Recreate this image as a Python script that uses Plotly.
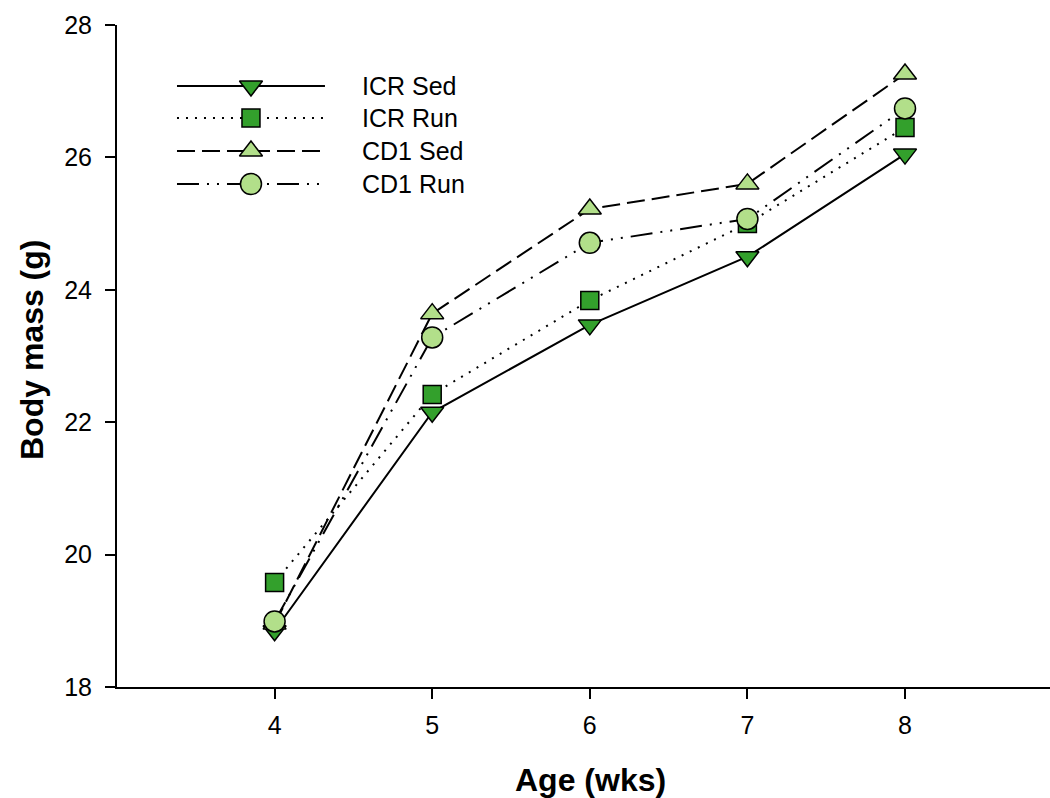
import plotly.graph_objects as go

# ---- data ----
age = [4, 5, 6, 7, 8]
icr_sed = [18.85, 22.15, 23.47, 24.50, 26.05]
icr_run = [19.58, 22.42, 23.84, 25.00, 26.45]
cd1_sed = [18.95, 23.64, 25.22, 25.60, 27.26]
cd1_run = [18.99, 23.28, 24.71, 25.07, 26.74]

series_names = ["ICR Sed", "ICR Run", "CD1 Sed", "CD1 Run"]
x_ticks = [4, 5, 6, 7, 8]
y_ticks = [18, 20, 22, 24, 26, 28]

DARK = "#33a02c"
LIGHT = "#b2df8a"
FONT = "Liberation Sans, Arial, sans-serif"

styles = [
    dict(symbol="triangle-down", color=DARK, dash="solid", size=20),
    dict(symbol="square", color=DARK, dash="2px,7px", size=18),
    dict(symbol="triangle-up", color=LIGHT, dash="18px,7px", size=20),
    dict(symbol="circle", color=LIGHT, dash="22px,8px,2px,8px,2px,8px", size=21),
]
series = [icr_sed, icr_run, cd1_sed, cd1_run]

fig = go.Figure()
for name, vals, st in zip(series_names, series, styles):
    fig.add_trace(go.Scatter(
        x=age, y=vals, name=name, mode="lines+markers",
        line=dict(color="black", width=2, dash=st["dash"]),
        marker=dict(symbol=st["symbol"], size=st["size"], color=st["color"],
                    line=dict(color="black", width=1.5)),
        showlegend=False,
    ))

# ---- manual legend (long line samples like the original) ----
leg_x = [0.0643, 0.1436, 0.2229]
leg_rows = [0.9079, 0.8595, 0.8097, 0.7598]
for name, st, ry in zip(series_names, styles, leg_rows):
    fig.add_trace(go.Scatter(
        x=leg_x, y=[ry] * 3, mode="lines",
        line=dict(color="black", width=2, dash=st["dash"]),
        xaxis="x2", yaxis="y2", showlegend=False, hoverinfo="skip",
    ))
    fig.add_trace(go.Scatter(
        x=[leg_x[1]], y=[ry], mode="markers",
        marker=dict(symbol=st["symbol"], size=st["size"], color=st["color"],
                    line=dict(color="black", width=1.5)),
        xaxis="x2", yaxis="y2", showlegend=False, hoverinfo="skip",
    ))
    fig.add_annotation(x=0.260, y=ry, xref="paper", yref="paper", text=name,
                       showarrow=False, xanchor="left", yanchor="middle",
                       font=dict(family=FONT, size=25, color="black"))

fig.update_layout(
    width=1050, height=798,
    margin=dict(l=117, r=0, t=25, b=111),
    paper_bgcolor="white", plot_bgcolor="white",
    font=dict(family=FONT, color="black"),
    xaxis=dict(range=[3.0, 8.92], tickvals=x_ticks, ticks="outside", ticklen=10,
               tickwidth=2, tickcolor="black", showline=True, linecolor="black",
               linewidth=2, showgrid=False, zeroline=False,
               tickfont=dict(size=25, family=FONT), ticklabelstandoff=5),
    yaxis=dict(range=[18, 28], tickvals=y_ticks, ticks="outside", ticklen=10,
               tickwidth=2, tickcolor="black", showline=True, linecolor="black",
               linewidth=2, showgrid=False, zeroline=False,
               tickfont=dict(size=25, family=FONT), ticklabelstandoff=8),
    xaxis2=dict(range=[0, 1], overlaying="x", visible=False, domain=[0, 1]),
    yaxis2=dict(range=[0, 1], overlaying="y", visible=False, domain=[0, 1]),
)

fig.add_annotation(xref="paper", yref="paper", x=(590 - 117) / 933,
                   y=(687 - 780) / 662, text="<b>Age (wks)</b>", showarrow=False,
                   xanchor="center", yanchor="middle",
                   font=dict(family=FONT, size=32, color="black"))
fig.add_annotation(xref="paper", yref="paper", x=(32 - 117) / 933, y=(687 - 350) / 662,
                   text="<b>Body mass (g)</b>", textangle=-90, showarrow=False,
                   xanchor="center", yanchor="middle",
                   font=dict(family=FONT, size=32, color="black"))

fig.write_html("out.html")
